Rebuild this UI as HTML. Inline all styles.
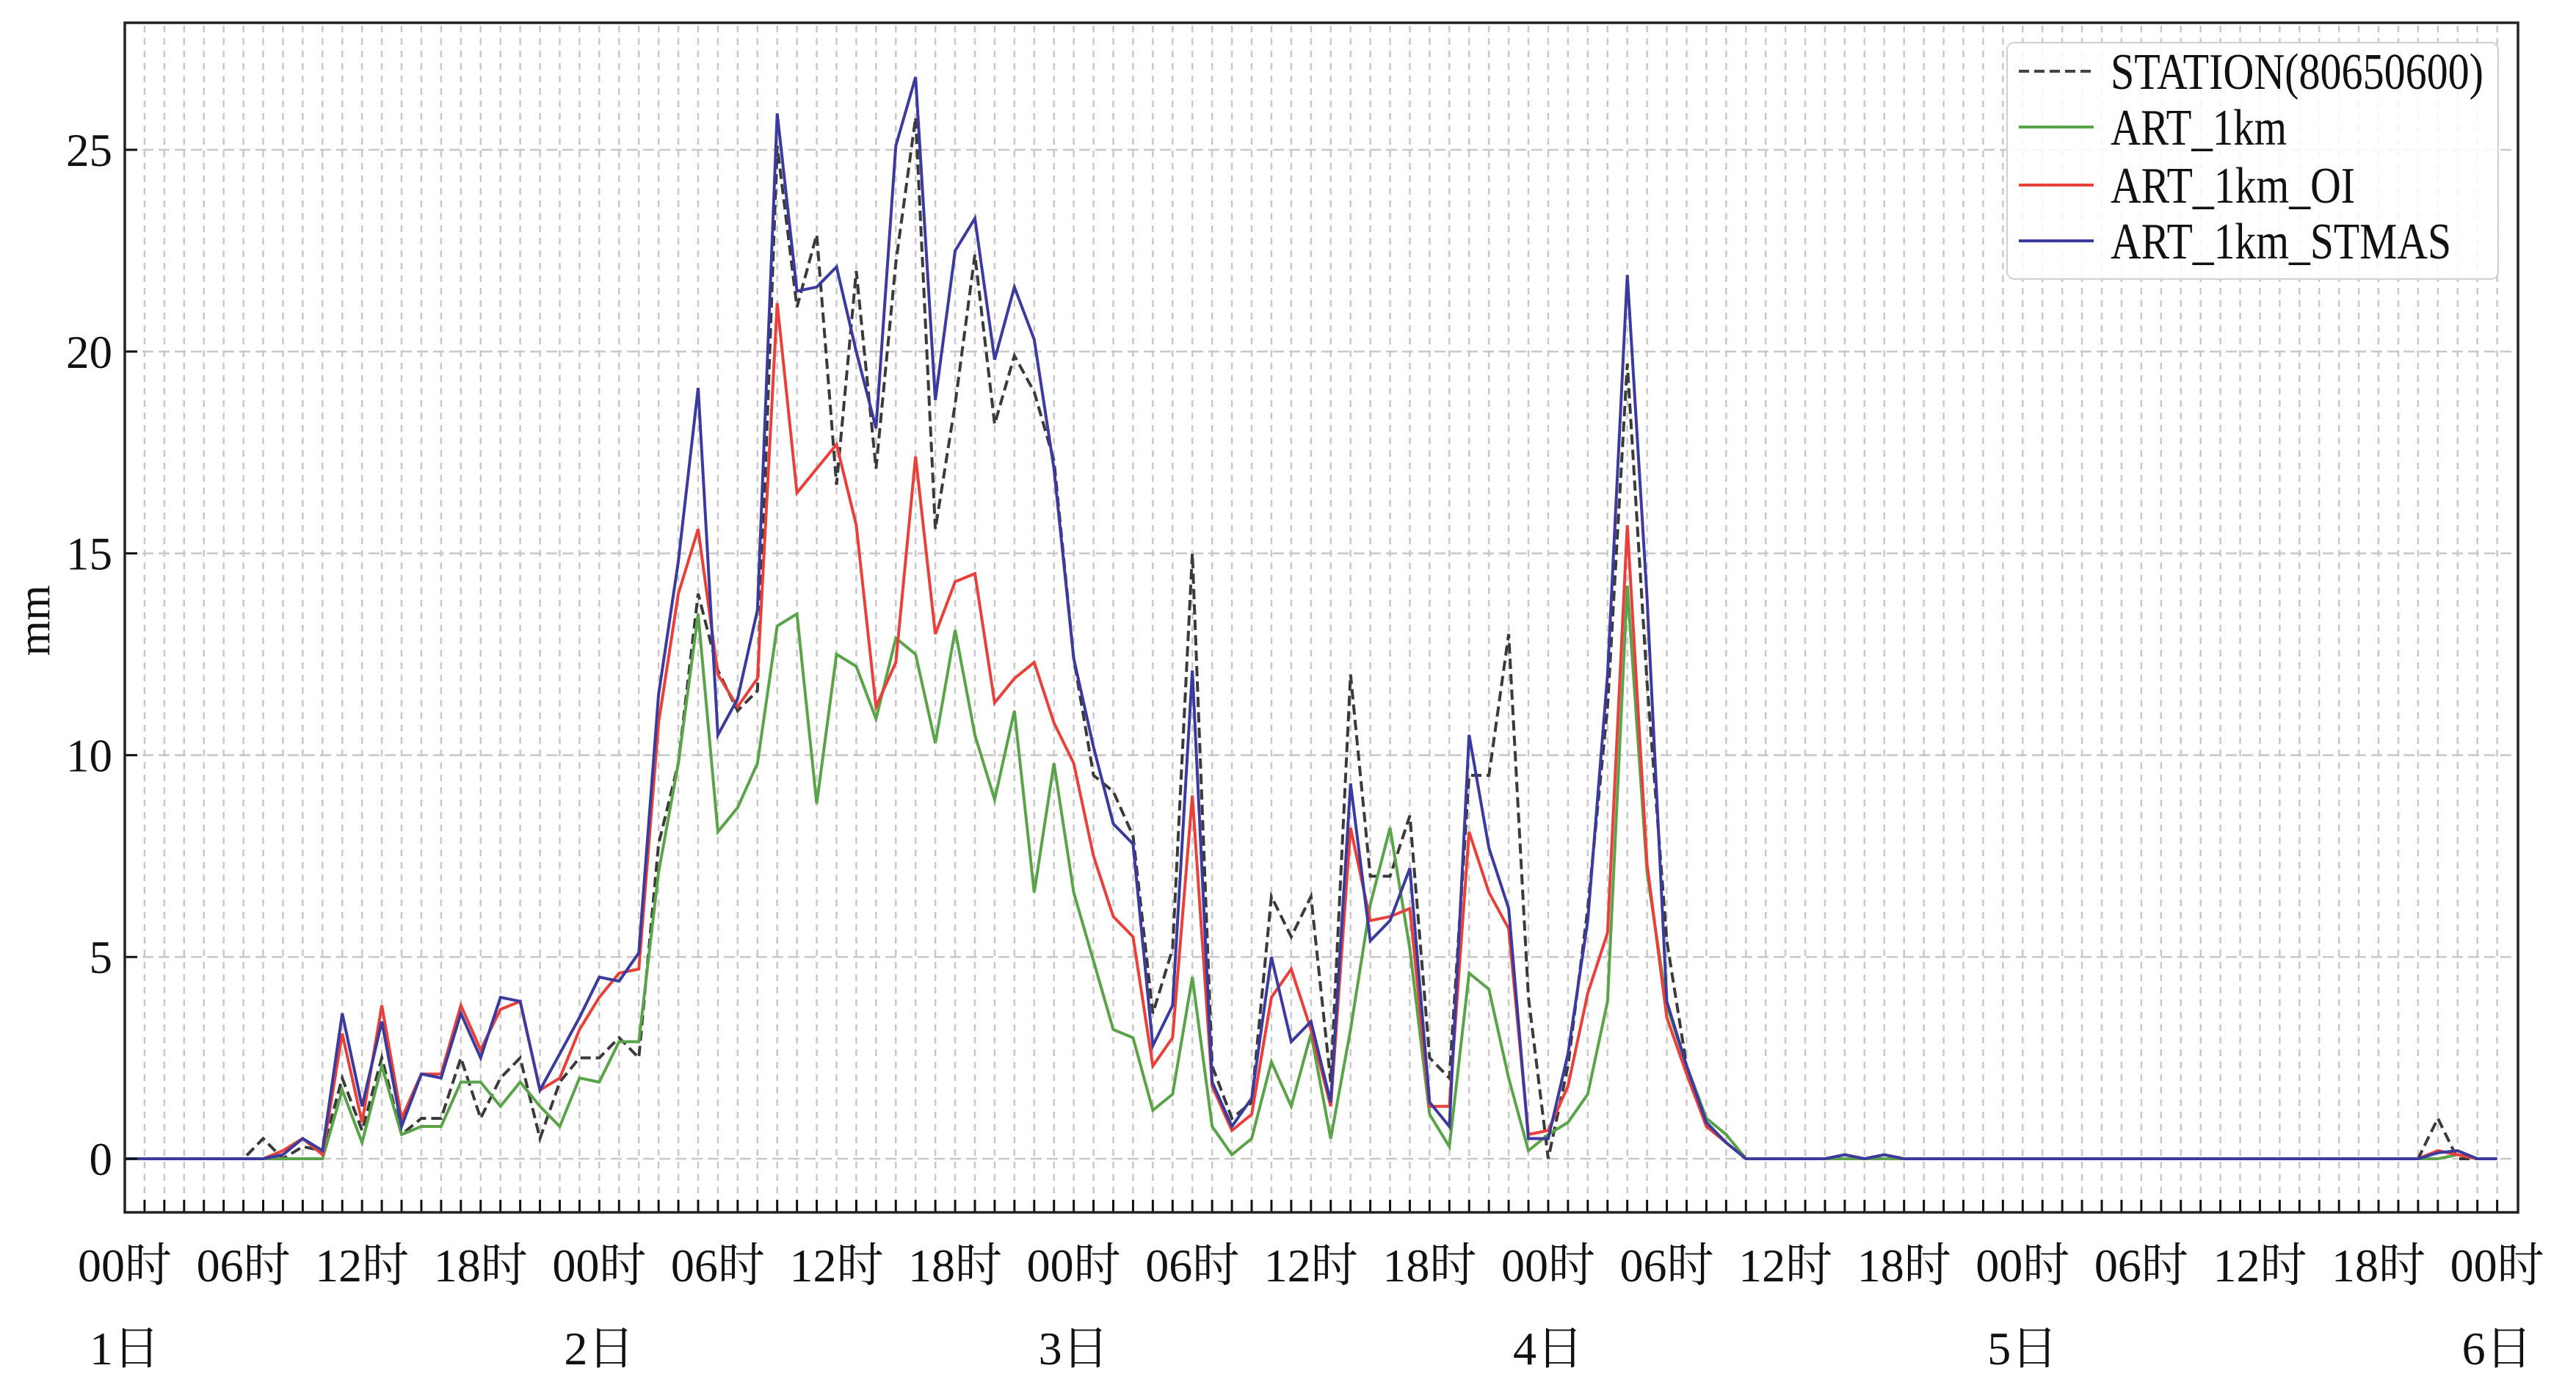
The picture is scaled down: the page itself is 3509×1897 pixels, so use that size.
<!DOCTYPE html>
<html><head><meta charset="utf-8"><style>
html,body{margin:0;padding:0;background:#fff;}
svg{display:block;}
text{font-family:"Liberation Serif","Noto Serif CJK SC","Noto Sans CJK SC",serif;fill:#111;}
</style></head><body>
<svg id="c" width="3509" height="1897" viewBox="0 0 3509 1897" xmlns="http://www.w3.org/2000/svg">
<rect width="3509" height="1897" fill="#fff"/>
<g id="grid"></g>
<g id="series"></g>
<g id="axes"></g>
<g id="legend">
<rect x="2734" y="58" width="669" height="322" rx="10" fill="#fff" fill-opacity="0.85" stroke="#d0d0d0" stroke-width="2"/>
<line x1="2750" y1="97" x2="2852" y2="97" stroke="#444" stroke-width="4" stroke-dasharray="14,7"/>
<line x1="2750" y1="173" x2="2852" y2="173" stroke="#5aa34a" stroke-width="4"/>
<line x1="2750" y1="252" x2="2852" y2="252" stroke="#e8413c" stroke-width="4"/>
<line x1="2750" y1="328" x2="2852" y2="328" stroke="#3b3b9e" stroke-width="4"/>
<text x="2875" y="121" font-size="70" textLength="508" lengthAdjust="spacingAndGlyphs">STATION(80650600)</text>
<text x="2875" y="197" font-size="70" textLength="240" lengthAdjust="spacingAndGlyphs">ART_1km</text>
<text x="2875" y="276" font-size="70" textLength="333" lengthAdjust="spacingAndGlyphs">ART_1km_OI</text>
<text x="2875" y="352" font-size="70" textLength="464" lengthAdjust="spacingAndGlyphs">ART_1km_STMAS</text>
</g>
<text x="53" y="845" font-size="62" text-anchor="middle" dominant-baseline="middle" transform="rotate(-90 53 845)">mm</text>
<g id="labels"></g>
</svg>
<script>
var NS="http://www.w3.org/2000/svg";
function el(t,a,p){var e=document.createElementNS(NS,t);for(var k in a)e.setAttribute(k,a[k]);p.appendChild(e);return e;}
var X0=170,SX=26.93,Y0=1578,SY=54.96,L=170,R=3430,T=31,B=1651;
function X(h){return X0+h*SX;}function Y(v){return Y0-v*SY;}
var g=document.getElementById('grid');
for(var h=0;h<=120;h++){el('line',{x1:X(h),y1:T+4,x2:X(h),y2:B-2,stroke:'#c8c8c8','stroke-width':2.5,'stroke-dasharray':'9,8'},g);}
for(var v=0;v<=25;v+=5){el('line',{x1:L+2,y1:Y(v),x2:R-2,y2:Y(v),stroke:'#c8c8c8','stroke-width':2.5,'stroke-dasharray':'15,7'},g);}
function arr(def,n){var a=[];for(var i=0;i<=120;i++)a.push(0);for(var k in def)a[+k]=def[k];return a;}
function seq(start,vals,extra){var d={};for(var i=0;i<vals.length;i++)d[start+i]=vals[i];if(extra)for(var k in extra)d[k]=extra[k];return arr(d);}
var S=seq(7,[0.5,0,0.3,0.2,2.0,0.7,2.5,0.6,1.0,1.0,2.5,1.0,2.0,2.5,0.5,1.9,2.5,2.5,3.0,2.5,7.8,9.8,14.0,12.1,11.1,11.6,25.1,21.1,22.9,16.7,22.0,17.1,22.2,25.8,15.6,18.7,22.4,18.2,19.9,19.0,17.3,12.4,9.5,9.1,8.0,3.6,5.2,15.0,2.3,1.0,1.4,6.5,5.5,6.5,1.9,12.0,7.0,7.0,8.5,2.5,2.0,9.5,9.5,13.0,4.0,0,2.3,6.2,11.2,19.7,11.8,5.4,2.3,1.0,0.6],{117:1.0});
var G=seq(11,[1.7,0.4,2.3,0.6,0.8,0.8,1.9,1.9,1.3,1.9,1.3,0.8,2.0,1.9,2.9,2.9,7.1,9.8,13.5,8.1,8.7,9.8,13.2,13.5,8.8,12.5,12.2,10.9,12.9,12.5,10.3,13.1,10.5,8.9,11.1,6.6,9.8,6.6,4.9,3.2,3.0,1.2,1.6,4.5,0.8,0.1,0.5,2.4,1.3,3.1,0.5,3.2,6.3,8.2,5.2,1.1,0.3,4.6,4.2,2.0,0.2,0.6,0.9,1.6,3.9,14.2,7.1,3.8,2.3,1.0,0.6],{118:0.1});
var Rr=seq(8,[0.2,0.5,0.1,3.1,0.9,3.8,1.0,2.1,2.1,3.8,2.7,3.7,3.9,1.7,2.0,3.2,4.0,4.6,4.7,10.8,14.0,15.6,12.0,11.2,11.9,21.2,16.5,17.1,17.7,15.7,11.2,12.3,17.4,13.0,14.3,14.5,11.3,11.9,12.3,10.8,9.8,7.5,6.0,5.5,2.3,3.0,9.0,1.8,0.7,1.1,4.0,4.7,3.2,1.3,8.2,5.9,6.0,6.2,1.3,1.3,8.1,6.6,5.7,0.6,0.7,1.8,4.1,5.6,15.7,7.3,3.5,2.1,0.8,0.4],{87:0.1,89:0.1,117:0.2,118:0.1});
var Bl=seq(8,[0.1,0.5,0.2,3.6,1.3,3.4,0.8,2.1,2.0,3.6,2.5,4.0,3.9,1.7,2.6,3.5,4.5,4.4,5.1,11.5,14.8,19.1,10.5,11.4,13.6,25.9,21.5,21.6,22.1,20.0,18.1,25.1,26.8,18.8,22.5,23.3,19.8,21.6,20.3,17.1,12.4,10.2,8.3,7.8,2.8,3.8,12.1,1.9,0.8,1.5,5.0,2.9,3.4,1.4,9.3,5.4,5.9,7.2,1.4,0.8,10.5,7.7,6.2,0.5,0.5,2.6,5.9,12.0,21.9,13.9,3.9,2.3,0.9,0.4],{87:0.1,89:0.1,117:0.15,118:0.2});
var sg=document.getElementById('series');
function pl(a,col,dash){var p=[];for(var i=0;i<a.length;i++)p.push(X(i).toFixed(1)+','+Y(a[i]).toFixed(1));var o={points:p.join(' '),fill:'none',stroke:col,'stroke-width':4,'stroke-linejoin':'miter'};if(dash)o['stroke-dasharray']=dash;el('polyline',o,sg);}
pl(S,'#3a3a3a','14,7');pl(G,'#5aa34a');pl(Rr,'#e8413c');pl(Bl,'#3b3b9e');
var ax=document.getElementById('axes');
for(var h=0;h<=120;h++)el('line',{x1:X(h),y1:B,x2:X(h),y2:B-17,stroke:'#111','stroke-width':3},ax);
for(var v=0;v<=25;v+=5)el('line',{x1:L,y1:Y(v),x2:L+17,y2:Y(v),stroke:'#111','stroke-width':3},ax);
el('rect',{x:L,y:T,width:R-L,height:B-T,fill:'none',stroke:'#222','stroke-width':3.5},ax);
var lb=document.getElementById('labels');
for(var v=0;v<=25;v+=5){var t=el('text',{x:153,y:Y(v)+22,'font-size':63,'text-anchor':'end'},lb);t.textContent=String(v);}
var hrs=['00','06','12','18'];
for(var h=0;h<=120;h+=6){var t=el('text',{x:X(h),y:1745,'font-size':64,'text-anchor':'middle'},lb);t.textContent=hrs[(h/6)%4]+'时';}
for(var d=0;d<=5;d++){var t=el('text',{x:X(d*24),y:1858,'font-size':64,'text-anchor':'middle'},lb);t.textContent=(d+1)+'日';}
</script>
</body></html>
